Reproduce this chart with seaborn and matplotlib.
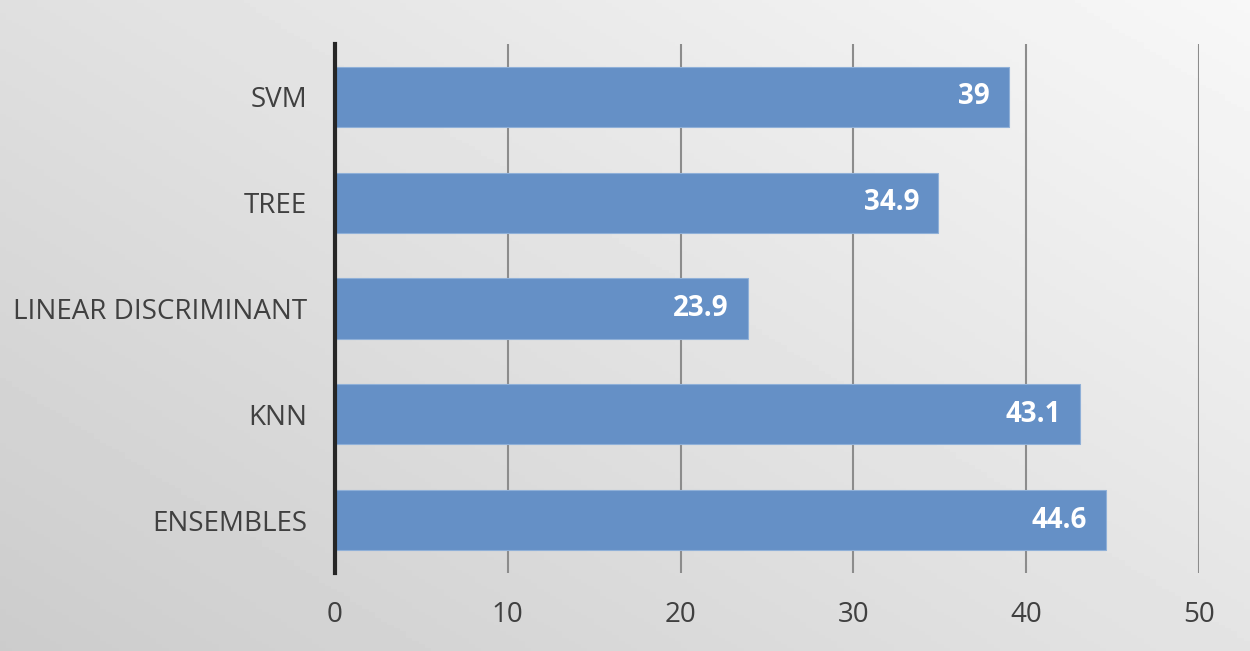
import numpy as np
import pandas as pd
import matplotlib.pyplot as plt
import seaborn as sns

# data
models = ["SVM", "TREE", "LINEAR DISCRIMINANT", "KNN", "ENSEMBLES"]
scores = [39, 34.9, 23.9, 43.1, 44.6]
score_labels = ["39", "34.9", "23.9", "43.1", "44.6"]
x_ticks = [0, 10, 20, 30, 40, 50]

df = pd.DataFrame({"model": models, "score": scores})

sns.set_theme(style="white")
plt.rcParams["font.family"] = ["Open Sans", "DejaVu Sans"]

fig = plt.figure(figsize=(12.5, 6.51), dpi=100)

# gradient background
bg = fig.add_axes([0, 0, 1, 1], zorder=-1)
yy, xx = np.mgrid[0:1:200j, 0:1:200j]
grad = 0.80 + 0.17 * (0.55 * xx + 0.45 * (1 - yy))
bg.imshow(grad, cmap="gray", vmin=0, vmax=1, aspect="auto", extent=[0, 1, 0, 1])
bg.axis("off")

ax = fig.add_axes([0.268, 0.1198, 0.6912, 0.8126])
ax.patch.set_alpha(0)

sns.barplot(data=df, x="score", y="model", color="#6590c6", saturation=1,
            width=0.57, ax=ax, zorder=3, edgecolor="#8fb0d8", linewidth=0.8)

ax.set_xlim(0, 50)
ax.set_ylim(4.5, -0.5)
ax.set_xticks(x_ticks)
ax.xaxis.grid(True, color="#8c8c8c", linewidth=1.5, zorder=0)
ax.set_axisbelow(True)

for s in ["top", "right", "bottom"]:
    ax.spines[s].set_visible(False)
ax.spines["left"].set_color("#262626")
ax.spines["left"].set_linewidth(3)
ax.spines["left"].set_zorder(4)

ax.tick_params(axis="x", length=0, pad=20, labelsize=20, labelcolor="#404040")
ax.tick_params(axis="y", length=0, pad=20, labelsize=20, labelcolor="#404040")
ax.set_xlabel("")
ax.set_ylabel("")

for bar, lab in zip(ax.patches, score_labels):
    ax.text(bar.get_width() - 1.1, bar.get_y() + bar.get_height() / 2, lab,
            ha="right", va="center", color="white", fontsize=20,
            fontweight="bold", zorder=5)

fig.savefig("out.png", dpi=100)
